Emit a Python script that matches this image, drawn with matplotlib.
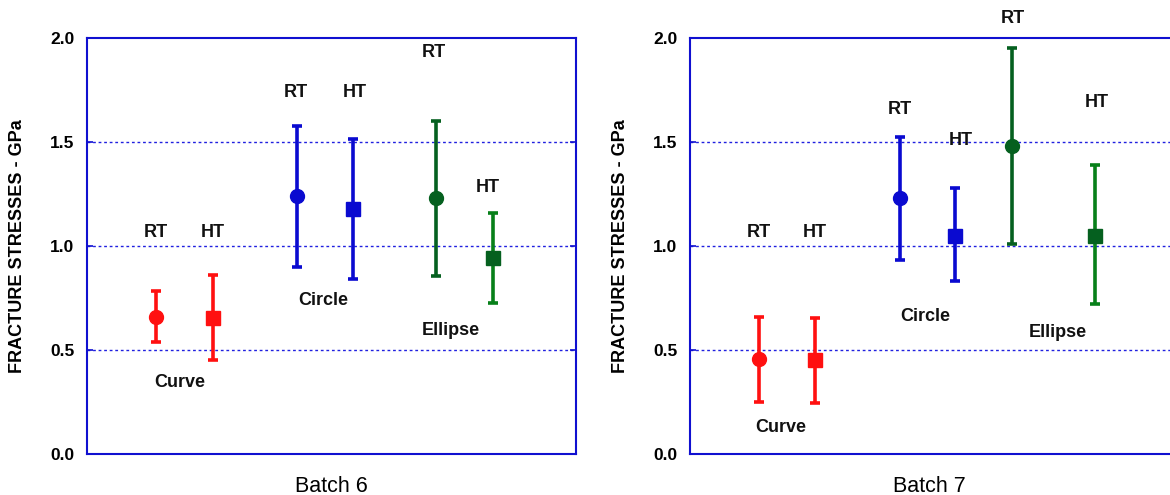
import numpy as np
import matplotlib
matplotlib.use("Agg")
import matplotlib.pyplot as plt

plt.rcParams['font.family'] = ['Liberation Sans', 'DejaVu Sans']

# Fracture stress data (GPa): mean, upper and lower error bar ends
specimens = ['Curve RT', 'Curve HT', 'Circle RT', 'Circle HT', 'Ellipse RT', 'Ellipse HT']
b6_mean = [0.66, 0.655, 1.24, 1.18, 1.23, 0.94]
b6_high = [0.785, 0.86, 1.575, 1.515, 1.60, 1.16]
b6_low = [0.54, 0.45, 0.90, 0.84, 0.855, 0.725]

b7_mean = [0.455, 0.45, 1.23, 1.05, 1.48, 1.05]
b7_high = [0.66, 0.655, 1.525, 1.28, 1.95, 1.39]
b7_low = [0.25, 0.245, 0.935, 0.83, 1.01, 0.72]

# positions inside each panel (axes fraction)
b6_x = [0.141, 0.258, 0.429, 0.544, 0.714, 0.830]
b7_x = [0.141, 0.256, 0.429, 0.542, 0.658, 0.828]

markers = ['o', 's', 'o', 's', 'o', 's']
bar_colors = ['#ff1010', '#ff1010', '#0a0ad0', '#0a0ad0', '#05601f', '#078019']
mk_colors = ['#ff1010', '#ff1010', '#0a0ad0', '#0a0ad0', '#05601f', '#05601f']

# annotations: (text, x, y)
b6_notes = [('RT', 0.141, 1.067), ('HT', 0.258, 1.067), ('Curve', 0.190, 0.346),
            ('RT', 0.427, 1.740), ('HT', 0.548, 1.736), ('Circle', 0.483, 0.740),
            ('RT', 0.710, 1.928), ('HT', 0.820, 1.279), ('Ellipse', 0.744, 0.596)]
b7_notes = [('RT', 0.141, 1.067), ('HT', 0.256, 1.067), ('Curve', 0.186, 0.125),
            ('RT', 0.429, 1.654), ('HT', 0.554, 1.505), ('Circle', 0.481, 0.663),
            ('RT', 0.661, 2.096), ('HT', 0.832, 1.692), ('Ellipse', 0.753, 0.582)]

fig = plt.figure(figsize=(11.7, 4.95), dpi=100)
ax1 = fig.add_axes([87 / 1170, 41 / 495, 489 / 1170, 416 / 495])
ax2 = fig.add_axes([690 / 1170, 41 / 495, 489 / 1170, 416 / 495])

spine_blue = '#1010d0'

def draw_panel(ax, xs, mean, high, low, notes, title, title_x):
    for i in range(len(xs)):
        err = [[mean[i] - low[i]], [high[i] - mean[i]]]
        ax.errorbar([xs[i]], [mean[i]], yerr=err, fmt=markers[i],
                    color=bar_colors[i], ecolor=bar_colors[i],
                    mfc=mk_colors[i], mec=mk_colors[i],
                    markersize=10 if markers[i] == 'o' else 10.5,
                    elinewidth=2.6, capsize=3.3, capthick=2.6, zorder=3)
    for txt, x, y in notes:
        ax.text(x, y, txt, ha='center', va='center', fontsize=13,
                fontweight='bold', color='#111111', clip_on=False)

    ax.set_xlim(0, 1)
    ax.set_ylim(0, 2)
    ax.set_xticks([])
    ax.set_yticks([0, 0.5, 1.0, 1.5, 2.0])
    ax.set_yticklabels(['%.1f' % v for v in [0, 0.5, 1.0, 1.5, 2.0]],
                       fontsize=12.5, fontweight='bold')
    ax.tick_params(axis='y', direction='in', length=4, width=1.2,
                   color=spine_blue, left=True, right=True, pad=9)
    for y in [0.5, 1.0, 1.5]:
        ax.axhline(y, color='#2020e0', linestyle=(0, (2, 2)), linewidth=1.0, zorder=1)
    for s in ax.spines.values():
        s.set_color(spine_blue)
        s.set_linewidth(1.5)

    ax.set_ylabel('FRACTURE STRESSES - GPa', fontsize=13, fontweight='bold')
    ax.yaxis.set_label_coords(-0.125, 0.5)
    ax.set_xlabel(title, fontsize=15.5)
    ax.xaxis.set_label_coords(title_x, -0.053)
    ax.xaxis.label.set_va('top')

draw_panel(ax1, b6_x, b6_mean, b6_high, b6_low, b6_notes, 'Batch 6', 0.5)
draw_panel(ax2, b7_x, b7_mean, b7_high, b7_low, b7_notes, 'Batch 7', 0.489)

fig.savefig('out.png', dpi=100)
